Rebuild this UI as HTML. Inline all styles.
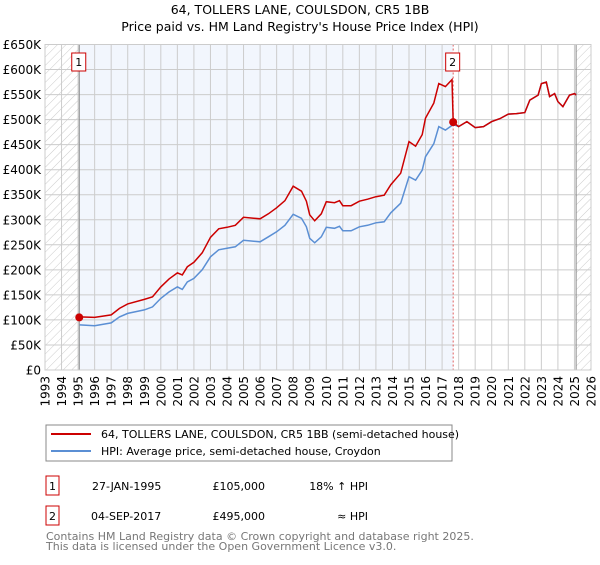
<!DOCTYPE html>
<html><head><meta charset="utf-8"><style>
body{margin:0;background:#fff;font-family:"Liberation Sans","DejaVu Sans",sans-serif;}
svg text{font-family:"DejaVu Sans","Liberation Sans",sans-serif;}
</style></head><body>
<svg id="c" width="600" height="560" viewBox="0 0 600 560">
<defs><pattern id="hatch" width="6" height="6" patternUnits="userSpaceOnUse" patternTransform="rotate(45)"><line x1="0" y1="0" x2="0" y2="6" stroke="#ccc" stroke-width="1"/></pattern></defs>
<text x="300" y="14" text-anchor="middle" font-size="12.5" fill="#000">64, TOLLERS LANE, COULSDON, CR5 1BB</text>
<text x="300" y="31" text-anchor="middle" font-size="12.5" fill="#000">Price paid vs. HM Land Registry's House Price Index (HPI)</text>
<g id="plot"></g>
<g>
<rect x="46" y="425" width="406" height="36" fill="#fff" stroke="#888"/>
<line x1="51" y1="434" x2="91" y2="434" stroke="#cc0000" stroke-width="2"/>
<text x="101" y="438" font-size="11">64, TOLLERS LANE, COULSDON, CR5 1BB (semi-detached house)</text>
<line x1="51" y1="451" x2="91" y2="451" stroke="#5b8fd4" stroke-width="2"/>
<text x="101" y="455" font-size="11">HPI: Average price, semi-detached house, Croydon</text>
</g>
<g font-size="11">
<rect x="46" y="476" width="13" height="19" fill="#fff" stroke="#cc0000"/>
<text x="52.5" y="490" text-anchor="middle">1</text>
<text x="92" y="490">27-JAN-1995</text>
<text x="265" y="490" text-anchor="end">£105,000</text>
<text x="368" y="490" text-anchor="end">18% ↑ HPI</text>
<rect x="46" y="506" width="13" height="19" fill="#fff" stroke="#cc0000"/>
<text x="52.5" y="520" text-anchor="middle">2</text>
<text x="91" y="520">04-SEP-2017</text>
<text x="265" y="520" text-anchor="end">£495,000</text>
<text x="368" y="520" text-anchor="end">≈ HPI</text>
</g>
<text x="46" y="540" font-size="11" fill="#777">Contains HM Land Registry data © Crown copyright and database right 2025.</text>
<text x="46" y="550" font-size="11" fill="#777">This data is licensed under the Open Government Licence v3.0.</text>
</svg>
<script>
const hpiYears=[1995.1,1996,1997,1997.5,1998,1999,1999.5,2000,2000.5,2001,2001.3,2001.6,2002,2002.5,2003,2003.5,2004,2004.5,2005,2006,2006.5,2007,2007.5,2008,2008.5,2008.8,2009,2009.3,2009.7,2010,2010.5,2010.8,2011,2011.5,2012,2012.5,2013,2013.5,2013.9,2014.5,2015,2015.4,2015.8,2016,2016.5,2016.8,2017.2,2017.67,2018,2018.5,2019,2019.5,2020,2020.5,2021,2021.5,2022,2022.3,2022.8,2023,2023.3,2023.5,2023.8,2024,2024.3,2024.7,2025,2025.1];
const hpiValues=[90,88.5,94,106,113,120,126,143,156,166,161,176,183,200,226,240,243,246,259,256,266,276,289,311,303,286,263,254,266,285,283,287,278,278,286,289,294,296,314,333,386,379,399,426,452,486,479,490,486,496,484,486,496,502,511,512,514,539,549,572,575,546,552,536,526,549,552,549];
const priceYears=[1995.07,1996,1997,1997.5,1998,1999,1999.5,2000,2000.5,2001,2001.3,2001.6,2002,2002.5,2003,2003.5,2004,2004.5,2005,2006,2006.5,2007,2007.5,2008,2008.5,2008.8,2009,2009.3,2009.7,2010,2010.5,2010.8,2011,2011.5,2012,2012.5,2013,2013.5,2013.9,2014.5,2015,2015.4,2015.8,2016,2016.5,2016.8,2017.2,2017.6,2017.67,2018,2018.5,2019,2019.5,2020,2020.5,2021,2021.5,2022,2022.3,2022.8,2023,2023.3,2023.5,2023.8,2024,2024.3,2024.7,2025,2025.1];
const priceValues=[106,105,110,123,132,141,146,166,182,194,190,206,215,234,265,282,285,289,305,302,312,324,338,367,357,337,310,298,312,336,334,338,328,328,337,341,346,349,370,393,456,447,470,503,533,572,566,580,495,486,496,484,486,496,502,511,512,514,539,549,572,575,546,552,536,526,549,552,549];
const yTicks=[0,50,100,150,200,250,300,350,400,450,500,550,600,650];
const yTickLabels=["£0","£50K","£100K","£150K","£200K","£250K","£300K","£350K","£400K","£450K","£500K","£550K","£600K","£650K"];
const xTicks=[1993,1994,1995,1996,1997,1998,1999,2000,2001,2002,2003,2004,2005,2006,2007,2008,2009,2010,2011,2012,2013,2014,2015,2016,2017,2018,2019,2020,2021,2022,2023,2024,2025,2026];
const saleYears=[1995.07,2017.67];
const saleValues=[105,495];
const saleLabels=["1","2"];

const X0=45,X1=591,Y0=370,Y1=44.5,YMIN=1993,YMAX=2026,VMAX=650;
const x=v=>X0+(v-YMIN)/(YMAX-YMIN)*(X1-X0);
const y=v=>Y0-v/VMAX*(Y0-Y1);
const NS="http://www.w3.org/2000/svg";
const g=document.getElementById('plot');
function mk(t,a){const e=document.createElementNS(NS,t);for(const k in a)e.setAttribute(k,a[k]);g.appendChild(e);return e;}
let e;
e=mk('rect',{x:X0,y:Y1,width:X1-X0,height:Y0-Y1,fill:'#fff'});


e=mk('rect',{x:x(1993),y:Y1,width:x(1995.07)-x(1993),height:Y0-Y1,fill:'url(#hatch)'});


e=mk('rect',{x:x(2025.1),y:Y1,width:X1-x(2025.1),height:Y0-Y1,fill:'url(#hatch)'});


e=mk('rect',{x:x(saleYears[0]),y:Y1,width:x(saleYears[1])-x(saleYears[0]),height:Y0-Y1,fill:'#eef3fc',opacity:0.75});


yTicks.forEach((t,i)=>{
  e=mk('line',{x1:X0,x2:X1,y1:y(t),y2:y(t),stroke:'#ccc','stroke-width':1});
  
  
  e=mk('text',{x:X0-4,y:y(t)+4.5,'text-anchor':'end','font-size':12});
  e.textContent=yTickLabels[i];
  
  
});
xTicks.forEach(t=>{
  e=mk('line',{x1:x(t),x2:x(t),y1:Y1,y2:Y0,stroke:'#ccc','stroke-width':1});
  
  
  e=mk('text',{x:0,y:0,'text-anchor':'end','font-size':12,transform:`translate(${x(t)+4.5},376) rotate(-90)`});
  e.textContent=t;
  
  
});
e=mk('line',{x1:x(saleYears[0]),x2:x(saleYears[0]),y1:Y1,y2:Y0,stroke:'#888','stroke-width':1});


e=mk('line',{x1:x(saleYears[1]),x2:x(saleYears[1]),y1:Y1,y2:Y0,stroke:'#e06060','stroke-width':1,'stroke-dasharray':'2,2'});


e=mk('line',{x1:x(2025.1),x2:x(2025.1),y1:Y1,y2:Y0,stroke:'#888','stroke-width':1});


e=mk('path',{d:hpiYears.map((t,i)=>(i?'L':'M')+x(t).toFixed(1)+','+y(hpiValues[i]).toFixed(1)).join(''),fill:'none',stroke:'#5b8fd4','stroke-width':1.5});


e=mk('path',{d:priceYears.map((t,i)=>(i?'L':'M')+x(t).toFixed(1)+','+y(priceValues[i]).toFixed(1)).join(''),fill:'none',stroke:'#cc0000','stroke-width':1.5});


saleYears.forEach((t,i)=>{
  e=mk('circle',{cx:x(t),cy:y(saleValues[i]),r:4,fill:'#cc0000'});
  
  
  e=mk('rect',{x:x(t)-7.5,y:53,width:14,height:18,fill:'#fff',stroke:'#cc0000'});
  
  
  e=mk('text',{x:x(t)-0.5,y:66,'text-anchor':'middle','font-size':11});
  e.textContent=saleLabels[i];
  
  
});
e=mk('rect',{x:X0,y:Y1,width:X1-X0,height:Y0-Y1,fill:'none',stroke:'#ccc'});


</script>
</body></html>
